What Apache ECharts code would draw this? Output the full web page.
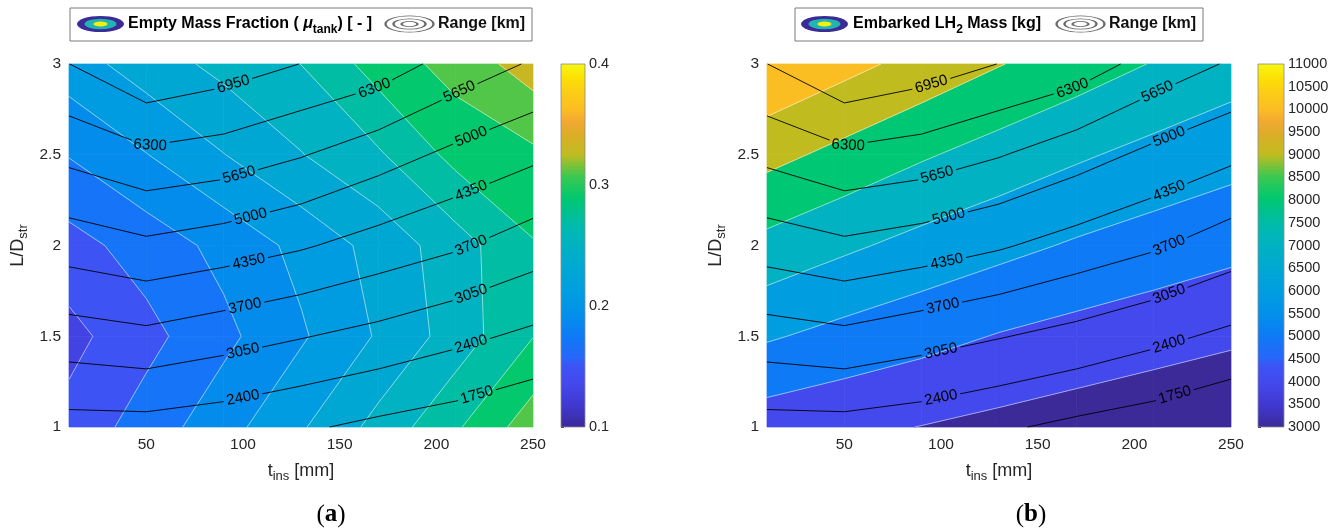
<!DOCTYPE html>
<html><head><meta charset="utf-8">
<script src="https://cdn.jsdelivr.net/npm/echarts@6/dist/echarts.min.js"></script>
<style>html,body{margin:0;padding:0;background:#fff}#c{width:1340px;height:529px}</style>
</head><body><div id="c"></div>
<script>
// ---------------- DATA ----------------
const tIns = [10, 50, 90, 130, 170, 210, 250];          // insulation thickness [mm]
const LD = [1, 1.5, 2, 2.5, 3];                          // L/D_str
// Range [km] (rows = LD, cols = tIns)
const rangeKm = [
  [2161, 2169, 2044, 1835, 1606, 1428, 1174],
  [3402, 3545, 3318, 3085, 2848, 2558, 2265],
  [4641, 4869, 4675, 4420, 4086, 3784, 3365],
  [5817, 6165, 6012, 5690, 5275, 4845, 4485],
  [6945, 7540, 7275, 6940, 6650, 6039, 5581]
];
// Empty mass fraction mu_tank [-]
const muTank = [
  [0.1468, 0.1690, 0.1923, 0.2177, 0.2465, 0.2771, 0.3112],
  [0.1338, 0.1539, 0.1749, 0.1974, 0.2221, 0.2489, 0.2795],
  [0.1526, 0.1686, 0.1859, 0.2057, 0.2270, 0.2511, 0.2786],
  [0.1810, 0.1994, 0.2195, 0.2391, 0.2574, 0.2862, 0.2960],
  [0.2106, 0.2297, 0.2458, 0.2602, 0.2888, 0.3075, 0.3300]
];
// Embarked LH2 mass [kg]
const lh2Mass = [
  [4467, 4219, 3978, 3742, 3514, 3294, 3072],
  [6109, 5686, 5330, 4944, 4664, 4412, 4169],
  [7706, 7170, 6687, 6286, 5890, 5570, 5265],
  [9313, 8703, 8112, 7600, 7132, 6710, 6362],
  [10941, 10299, 9668, 9045, 8493, 7951, 7458]
];
const rangeLevels = [1750, 2400, 3050, 3700, 4350, 5000, 5650, 6300, 6950];
const muLevels = [0.10, 0.12, 0.14, 0.16, 0.18, 0.20, 0.22, 0.24, 0.26, 0.28, 0.30, 0.32, 0.34, 0.36, 0.38, 0.40];
const massLevels = [3000, 4000, 5000, 6000, 7000, 8000, 9000, 10000, 11000];
const xTickValues = [50, 100, 150, 200, 250];

// ---------------- STYLE / LAYOUT ----------------
const FONT = '"Liberation Sans", Arial, sans-serif';
const TXT = '#262626';
// where along t_ins the inline range labels sit (layout only)
const labelAt = {1750: [221], 2400: [100, 218], 3050: [100, 218], 3700: [101, 218], 4350: [103, 218],
  5000: [104, 218], 5650: [98, 212], 6300: [52, 168], 6950: [95]};
const CMAP = [[0, '#3b2a98'], [0.06, '#4038d0'], [0.12, '#4448ec'], [0.17, '#3c54f4'], [0.19, '#2866fa'],
  [0.25, '#0e7af6'], [0.31, '#0290ea'], [0.375, '#009ee0'], [0.44, '#00a8d2'], [0.5, '#00b2c2'],
  [0.55, '#00bab0'], [0.59, '#00c090'], [0.63, '#00c870'], [0.69, '#3cc850'], [0.75, '#c0bc20'],
  [0.80, '#d8ae26'], [0.84, '#f2a832'], [0.875, '#fbbe22'], [0.92, '#fccc16'], [0.96, '#fce004'], [1, '#f6f812']];

function hex2rgb(h) { return [parseInt(h.slice(1, 3), 16), parseInt(h.slice(3, 5), 16), parseInt(h.slice(5, 7), 16)]; }
function cmap(t) {
  t = Math.max(0, Math.min(1, t));
  for (let i = 0; i < CMAP.length - 1; i++) {
    const a = CMAP[i], b = CMAP[i + 1];
    if (t <= b[0]) {
      const u = (t - a[0]) / (b[0] - a[0]);
      const ca = hex2rgb(a[1]), cb = hex2rgb(b[1]);
      return 'rgb(' + ca.map((v, k) => Math.round(v + u * (cb[k] - v))).join(',') + ')';
    }
  }
  return CMAP[CMAP.length - 1][1];
}

// ---------------- CONTOUR GEOMETRY (marching squares) ----------------
function clipPoly(poly, inside, lvl) {
  const out = [];
  for (let i = 0; i < poly.length; i++) {
    const A = poly[i], B = poly[(i + 1) % poly.length];
    const ia = inside(A.f), ib = inside(B.f);
    if (ia) out.push(A);
    if (ia !== ib) {
      const t = (lvl - A.f) / (B.f - A.f);
      out.push({x: A.x + t * (B.x - A.x), y: A.y + t * (B.y - A.y), f: lvl});
    }
  }
  return out;
}
function bandPolygons(Z, levels, vmin, vmax, shift) {
  const res = [];
  for (let k = 0; k < levels.length - 1; k++) {
    const lo = levels[k], hi = levels[k + 1];
    const color = cmap((lo + shift * (hi - lo) - vmin) / (vmax - vmin));
    for (let r = 0; r < LD.length - 1; r++) for (let c = 0; c < tIns.length - 1; c++) {
      let q = [
        {x: tIns[c], y: LD[r], f: Z[r][c]}, {x: tIns[c + 1], y: LD[r], f: Z[r][c + 1]},
        {x: tIns[c + 1], y: LD[r + 1], f: Z[r + 1][c + 1]}, {x: tIns[c], y: LD[r + 1], f: Z[r + 1][c]}];
      q = clipPoly(q, f => f >= lo, lo);
      if (q.length < 3) continue;
      q = clipPoly(q, f => f <= hi, hi);
      if (q.length < 3) continue;
      res.push({color, pts: q.map(p => [p.x, p.y])});
    }
  }
  return res;
}
function contourLines(Z, L) {
  const pts = {};
  function edgePoint(id) {
    if (pts[id]) return pts[id];
    const [k, r, c] = id.split('_');
    const ri = +r, ci = +c;
    let p;
    if (k === 'h') {
      const t = (L - Z[ri][ci]) / (Z[ri][ci + 1] - Z[ri][ci]);
      p = [tIns[ci] + t * (tIns[ci + 1] - tIns[ci]), LD[ri]];
    } else {
      const t = (L - Z[ri][ci]) / (Z[ri + 1][ci] - Z[ri][ci]);
      p = [tIns[ci], LD[ri] + t * (LD[ri + 1] - LD[ri])];
    }
    return (pts[id] = p);
  }
  const segs = [];
  const cr = (a, b) => (a < L) !== (b < L);
  for (let r = 0; r < LD.length - 1; r++) for (let c = 0; c < tIns.length - 1; c++) {
    const f0 = Z[r][c], f1 = Z[r][c + 1], f2 = Z[r + 1][c + 1], f3 = Z[r + 1][c];
    const e = [
      cr(f0, f1) ? 'h_' + r + '_' + c : null,
      cr(f1, f2) ? 'v_' + r + '_' + (c + 1) : null,
      cr(f3, f2) ? 'h_' + (r + 1) + '_' + c : null,
      cr(f0, f3) ? 'v_' + r + '_' + c : null];
    const ids = e.filter(Boolean);
    if (ids.length === 2) segs.push(ids);
    else if (ids.length === 4) {
      const cen = (f0 + f1 + f2 + f3) / 4;
      if ((cen < L) === (f0 < L)) { segs.push([e[0], e[1]]); segs.push([e[2], e[3]]); }
      else { segs.push([e[3], e[0]]); segs.push([e[1], e[2]]); }
    }
  }
  const adj = {};
  segs.forEach((s, i) => s.forEach(id => (adj[id] = adj[id] || []).push(i)));
  const used = new Array(segs.length).fill(false);
  const lines = [];
  const starts = Object.keys(adj).sort((a, b) => adj[a].length - adj[b].length);
  starts.forEach(st => {
    let cur = st;
    const chain = [cur];
    while (true) {
      const nx = (adj[cur] || []).find(i => !used[i]);
      if (nx === undefined) break;
      used[nx] = true;
      const s = segs[nx];
      cur = s[0] === cur ? s[1] : s[0];
      chain.push(cur);
    }
    if (chain.length > 1) lines.push(chain.map(edgePoint));
  });
  return lines;
}

// ---------------- PIXEL HELPERS ----------------
function cumLen(p) { const c = [0]; for (let i = 1; i < p.length; i++) c.push(c[i - 1] + Math.hypot(p[i][0] - p[i - 1][0], p[i][1] - p[i - 1][1])); return c; }
function pointAt(p, c, s) {
  s = Math.max(0, Math.min(c[c.length - 1], s));
  for (let i = 1; i < p.length; i++) if (s <= c[i]) {
    const u = (s - c[i - 1]) / ((c[i] - c[i - 1]) || 1);
    return [p[i - 1][0] + u * (p[i][0] - p[i - 1][0]), p[i - 1][1] + u * (p[i][1] - p[i - 1][1])];
  }
  return p[p.length - 1];
}
function cutLine(p, c, gaps) {
  const total = c[c.length - 1];
  gaps.sort((a, b) => a[0] - b[0]);
  const keep = []; let s0 = 0;
  gaps.forEach(g => { if (g[0] > s0) keep.push([s0, g[0]]); s0 = Math.max(s0, g[1]); });
  if (s0 < total) keep.push([s0, total]);
  return keep.map(([a, b]) => {
    const out = [pointAt(p, c, a)];
    for (let i = 1; i < p.length - 1; i++) if (c[i] > a && c[i] < b) out.push(p[i]);
    out.push(pointAt(p, c, b));
    return out;
  });
}

const LABEL_FS = 15;
function makeRenderer(Z, levels, vmin, vmax, shift) {
  const bands = bandPolygons(Z, levels, vmin, vmax, shift);
  const whites = [];
  levels.forEach(L => contourLines(Z, L).forEach(l => whites.push(l)));
  const blacks = rangeLevels.map(L => ({L, lines: contourLines(rangeKm, L)}));
  return function (params, api) {
    if (params.dataIndex !== 0) return null;
    const P = d => api.coord(d);
    const ch = [];
    bands.forEach(b => ch.push({type: 'polygon', silent: true, shape: {points: b.pts.map(P)},
      style: {fill: b.color, stroke: b.color, lineWidth: 0.7}}));
    whites.forEach(l => ch.push({type: 'polyline', silent: true, shape: {points: l.map(P)},
      style: {stroke: 'rgba(255,255,255,0.85)', lineWidth: 0.6, fill: null}}));
    blacks.forEach(({L, lines}) => {
      const txt = String(L);
      const half = txt.length * 0.556 * LABEL_FS / 2 + 3;
      lines.forEach(dl => {
        const pl = dl.map(P), cl = cumLen(pl);
        const gaps = [];
        (labelAt[L] || []).forEach(tx => {
          for (let i = 1; i < dl.length; i++) {
            const a = dl[i - 1], b = dl[i];
            if ((tx - a[0]) * (tx - b[0]) <= 0 && a[0] !== b[0]) {
              const u = (tx - a[0]) / (b[0] - a[0]);
              const s = cl[i - 1] + u * (cl[i] - cl[i - 1]);
              const pa = pointAt(pl, cl, s - half), pb = pointAt(pl, cl, s + half);
              const pc = pointAt(pl, cl, s);
              let ang = Math.atan2(-(pb[1] - pa[1]), pb[0] - pa[0]);
              if (ang > Math.PI / 2) ang -= Math.PI;
              if (ang < -Math.PI / 2) ang += Math.PI;
              gaps.push([s - half, s + half]);
              ch.push({type: 'text', silent: true, x: pc[0], y: pc[1], rotation: ang,
                style: {text: txt, fill: '#000', fontSize: LABEL_FS, fontFamily: FONT,
                  align: 'center', verticalAlign: 'middle', textAlign: 'center', textVerticalAlign: 'middle'}});
              break;
            }
          }
        });
        cutLine(pl, cl, gaps).forEach(seg => ch.push({type: 'polyline', silent: true, shape: {points: seg},
          style: {stroke: '#000', lineWidth: 0.9, fill: null}}));
      });
    });
    return {type: 'group', children: ch};
  };
}
function colorbarRenderer(vmin, vmax) {
  const stops = CMAP.map(s => ({offset: s[0], color: s[1]}));
  return function (params, api) {
    if (params.dataIndex !== 0) return null;
    const a = api.coord([0, vmin]), b = api.coord([1, vmax]);
    return {type: 'rect', silent: true, shape: {x: a[0], y: b[1], width: b[0] - a[0], height: a[1] - b[1]},
      style: {fill: new echarts.graphic.LinearGradient(0, 1, 0, 0, stops), stroke: '#8a8a8a', lineWidth: 0.8}};
  };
}

// ---------------- OPTION ----------------
const nodes = Z => LD.flatMap((y, r) => tIns.map((x, c) => [x, y, Z[r][c]]));
const subRich = {
  t: {fontSize: 18, fontFamily: FONT, color: TXT, lineHeight: 24, verticalAlign: 'middle'},
  s: {fontSize: 13, fontFamily: FONT, color: TXT, lineHeight: 10, verticalAlign: 'bottom'}
};
function mainX(gi) {
  return {gridIndex: gi, type: 'value', min: 10, max: 250,
    axisLine: {show: false}, axisTick: {show: false}, splitLine: {show: false},
    axisLabel: {customValues: xTickValues, fontSize: 15.5, fontFamily: FONT, color: TXT, margin: 10},
    name: '{t|t}{s|ins}{t| [mm]}', nameLocation: 'middle', nameGap: 32, nameTextStyle: {rich: subRich}};
}
function mainY(gi) {
  return {gridIndex: gi, type: 'value', min: 1, max: 3, interval: 0.5,
    axisLine: {show: false}, axisTick: {show: false}, splitLine: {show: false},
    axisLabel: {fontSize: 15.5, fontFamily: FONT, color: TXT, margin: 8, showMinLabel: true, showMaxLabel: true},
    name: '{t|L/D}{s|str}', nameLocation: 'middle', nameGap: 39, nameTextStyle: {rich: subRich}};
}
function cbX(gi) { return {gridIndex: gi, type: 'value', min: 0, max: 1, show: false}; }
function cbY(gi, mn, mx, iv) {
  return {gridIndex: gi, type: 'value', min: mn, max: mx, interval: iv, position: 'right',
    axisLine: {show: false}, splitLine: {show: false},
    axisTick: {show: true, length: 3, lineStyle: {color: TXT, width: 1}},
    axisLabel: {fontSize: 14.5, fontFamily: FONT, color: TXT, margin: 4, showMinLabel: true, showMaxLabel: true,
      formatter: v => String(+v.toFixed(6))}};
}

function legendBox(x0, x1, icx, icx2, textX, text, rich, rangeX) {
  const cy = 24;
  const ell = (cx, rx, ry, style) => ({type: 'circle', x: cx, y: cy, scaleX: rx / ry, shape: {cx: 0, cy: 0, r: ry}, style});
  return [
    {type: 'rect', shape: {x: x0, y: 8, width: x1 - x0, height: 33}, style: {fill: '#fff', stroke: '#7a7a7a', lineWidth: 1}},
    ell(icx, 23.5, 8, {fill: '#3b2a98'}),
    ell(icx, 16, 5.2, {fill: '#22b4b0'}),
    ell(icx, 7, 2.6, {fill: '#f4f010'}),
    ell(icx2, 24, 8.2, {fill: 'none', stroke: '#6a6a6a', lineWidth: 0.8}),
    ell(icx2, 16, 5.2, {fill: 'none', stroke: '#6a6a6a', lineWidth: 0.8}),
    ell(icx2, 8, 2.6, {fill: 'none', stroke: '#6a6a6a', lineWidth: 0.8}),
    {type: 'text', x: textX, y: cy, style: {text, rich, align: 'left', verticalAlign: 'middle'}},
    {type: 'text', x: rangeX, y: cy, style: {text: 'Range [km]', fontSize: 16, fontWeight: 'bold', fontFamily: FONT, fill: '#111', align: 'left', verticalAlign: 'middle'}}
  ];
}
const legRich = {
  b: {fontSize: 16, fontWeight: 'bold', fontFamily: FONT, color: '#111', lineHeight: 24, verticalAlign: 'middle'},
  m: {fontSize: 16, fontWeight: 'bold', fontStyle: 'italic', fontFamily: FONT, color: '#111', lineHeight: 24, verticalAlign: 'middle'},
  s: {fontSize: 12, fontWeight: 'bold', fontFamily: FONT, color: '#111', lineHeight: 10, verticalAlign: 'bottom'}
};
const panelRich = {
  p: {fontSize: 25, fontFamily: '"Liberation Serif", serif', color: '#000'},
  a: {fontSize: 25, fontFamily: '"Liberation Serif", serif', fontWeight: 'bold', color: '#000'}
};

const option = {
  animation: false,
  backgroundColor: '#fff',
  grid: [
    {left: 69, top: 64, width: 464, height: 363},
    {left: 767, top: 64, width: 464, height: 363},
    {left: 561, top: 64, width: 24, height: 363},
    {left: 1258, top: 64, width: 26, height: 363}
  ],
  xAxis: [mainX(0), mainX(1), cbX(2), cbX(3)],
  yAxis: [mainY(0), mainY(1), cbY(2, 0.1, 0.4, 0.1), cbY(3, 3000, 11000, 500)],
  series: [
    {type: 'custom', xAxisIndex: 0, yAxisIndex: 0, data: nodes(muTank), encode: {x: 0, y: 1},
      renderItem: makeRenderer(muTank, muLevels, 0.1, 0.4, 0.5), silent: true},
    {type: 'custom', xAxisIndex: 1, yAxisIndex: 1, data: nodes(lh2Mass), encode: {x: 0, y: 1},
      renderItem: makeRenderer(lh2Mass, massLevels, 3000, 11000, 0), silent: true},
    {type: 'custom', xAxisIndex: 2, yAxisIndex: 2, data: [[0, 0.1], [1, 0.4]], encode: {x: 0, y: 1},
      renderItem: colorbarRenderer(0.1, 0.4), silent: true},
    {type: 'custom', xAxisIndex: 3, yAxisIndex: 3, data: [[0, 3000], [1, 11000]], encode: {x: 0, y: 1},
      renderItem: colorbarRenderer(3000, 11000), silent: true}
  ],
  graphic: [].concat(
    legendBox(70, 532, 100.5, 409.5, 128, '{b|Empty Mass Fraction ( }{m|μ}{s|tank}{b|) [ - ]}', legRich, 438),
    legendBox(795, 1203, 824.5, 1080.5, 853, '{b|Embarked LH}{s|2}{b| Mass [kg]}', legRich, 1109),
    [
      {type: 'text', x: 331, y: 515, style: {text: '{p|(}{a|a}{p|)}', rich: panelRich, align: 'center', verticalAlign: 'middle'}},
      {type: 'text', x: 1031, y: 515, style: {text: '{p|(}{a|b}{p|)}', rich: panelRich, align: 'center', verticalAlign: 'middle'}}
    ]
  )
};
const chart = echarts.init(document.getElementById('c'), null, {renderer: 'canvas'});
chart.setOption(option);
</script></body></html>
